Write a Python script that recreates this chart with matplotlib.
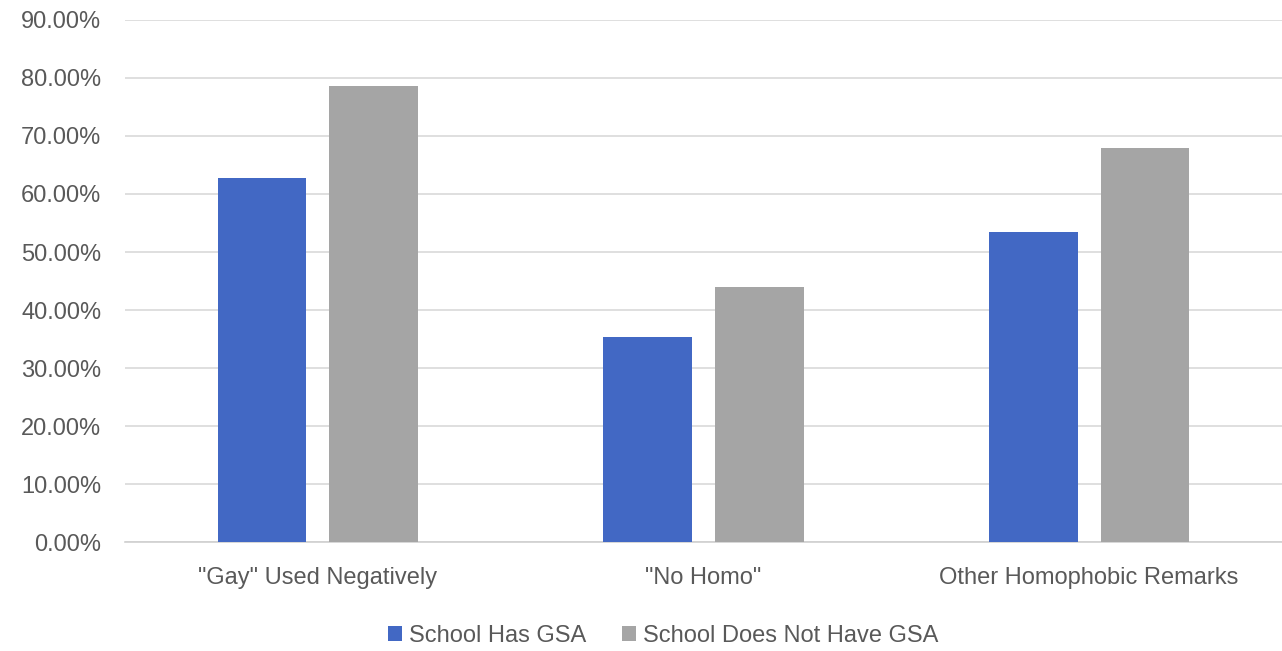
import numpy as np
import matplotlib.pyplot as plt
from matplotlib.ticker import PercentFormatter

categorias = ['"Gay" Used Negatively', '"No Homo"', 'Other Homophobic Remarks']
com_gsa = [62.8, 35.3, 53.4]
sem_gsa = [78.6, 44.0, 67.9]
series = ['School Has GSA', 'School Does Not Have GSA']

plt.rcParams['font.family'] = ['Liberation Sans', 'DejaVu Sans']

fig = plt.figure(figsize=(12.82, 6.51), dpi=100)
ax = fig.add_axes([0.0975, 0.1674, 0.9025, 0.8019])

x = np.arange(len(categorias))
largura = 0.23
ax.bar(x - 0.145, com_gsa, largura, color='#4268c4', label=series[0], zorder=3)
ax.bar(x + 0.145, sem_gsa, largura, color='#a5a5a5', label=series[1], zorder=3)

ax.set_xlim(-0.5, 2.5)
ax.set_ylim(0, 90)
ax.set_yticks(np.arange(0, 91, 10))
ax.yaxis.set_major_formatter(PercentFormatter(decimals=2))
ax.set_xticks(x)
ax.set_xticklabels(categorias)

ax.grid(axis='y', color='#d9d9d9', linewidth=1.2, zorder=0)
for lado in ['top', 'right', 'left']:
    ax.spines[lado].set_visible(False)
ax.spines['bottom'].set_color('#d0d0d0')
ax.spines['bottom'].set_linewidth(1.2)
ax.tick_params(axis='y', length=0, labelsize=17, colors='#595959', pad=17)
ax.tick_params(axis='x', length=0, labelsize=17, colors='#595959', pad=18)

ax.legend(loc='center', bbox_to_anchor=(0.465, -0.18), ncol=2, frameon=False,
          fontsize=17, labelcolor='#595959', handlelength=0.6, handleheight=0.6,
          handletextpad=0.3, columnspacing=1.5)

fig.savefig('out.png', dpi=100)
